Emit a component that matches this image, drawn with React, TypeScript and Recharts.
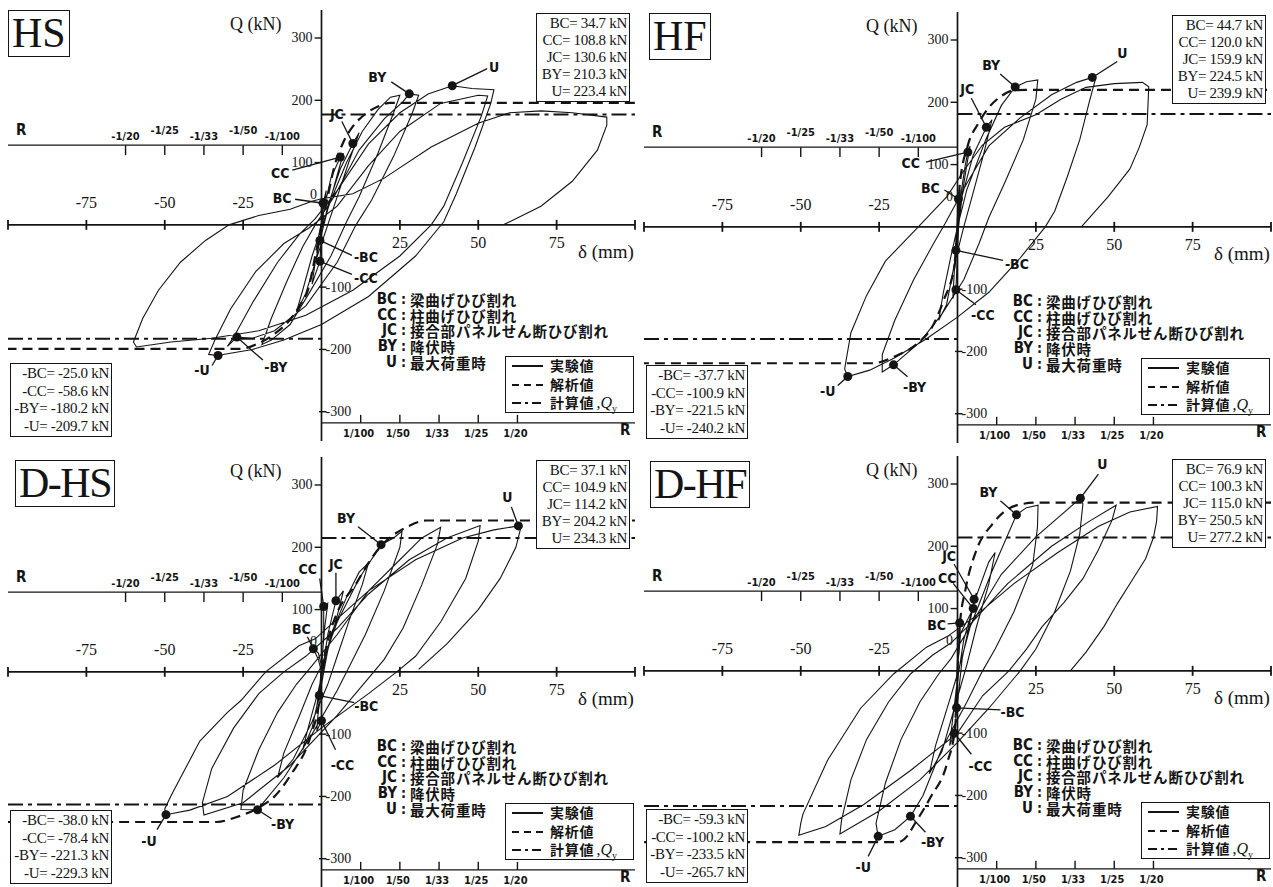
import React from 'react'
import { ComposedChart, Line, Scatter, XAxis, YAxis, ReferenceLine } from 'recharts'

type Pt = [number, number]

// shared axes
const deltaTicks = [-100, -75, -50, -25, 25, 50, 75, 100]
const deltaLabels = [-75, -50, -25, 25, 50, 75]
const qTicks = [300, 200, 100, -100, -200, -300]
const rDelta = [12.5, 25, 37.5, 50, 62.5]
const rLabels = ['1/100', '1/50', '1/33', '1/25', '1/20']
const markerNames = ['BC', 'CC', 'JC', 'BY', 'U', '-BC', '-CC', '-BY', '-U']
const defCodes = ['BC', 'CC', 'JC', 'BY', 'U']
const defTerms = ['梁曲げひび割れ', '柱曲げひび割れ', '接合部パネルせん断ひび割れ', '降伏時', '最大荷重時']
const legendTerms = ['実験値', '解析値', '計算値']

// HS
const hsCurve: Pt[] = [
  [0, 0], [0.5, 34.7], [1.5, 55], [1, 30], [0, 2], [-0.5, -25], [-1.5, -45], [-1, -20], [0, 0],
  [1, 30], [3, 75], [6, 108.8], [7, 115], [5, 80], [2, 25], [0, -15], [-0.5, -58.6], [-2, -80], [-3, -95], [-2, -60], [0, -15],
  [2, 30], [6, 90], [10, 130.6], [12, 148], [9, 105], [5, 45], [2, 0], [-2, -60], [-5, -110], [-8, -140], [-6, -105], [-3, -50], [0, -5],
  [3, 40], [8, 100], [13, 150], [18, 185], [22, 205], [25, 208], [23, 180], [18, 115], [12, 45], [8, 5], [3, -50], [-4, -110], [-10, -160], [-16, -185], [-19, -192], [-16, -150], [-11, -90], [-6, -35], [-2, 0],
  [4, 45], [12, 120], [20, 170], [26, 198], [28, 210.3], [31, 208], [29, 180], [23, 110], [16, 40], [11, 0], [5, -60], [-5, -130], [-15, -170], [-22, -182], [-27, -180.2], [-30, -195], [-28, -180], [-22, -125], [-14, -60], [-7, -15], [-2, 10],
  [5, 55], [15, 130], [25, 180], [34, 210], [41.7, 223.4], [48, 219], [55, 217], [54, 195], [49, 125], [43, 50], [39, 5], [30, -50], [15, -115], [0, -160], [-12, -185], [-22, -200], [-30, -207], [-33, -209.7], [-36, -208], [-34, -185], [-29, -135], [-21, -75], [-12, -30], [-4, -5],
  [5, 30], [15, 95], [25, 150], [38, 195], [50, 208], [53, 207], [51, 175], [45, 100], [39, 30], [35, 0], [25, -50], [10, -105], [-5, -145], [-20, -170], [-35, -182], [-48, -188], [-59, -196], [-60, -188], [-57, -150], [-52, -105], [-45, -60], [-37, -25], [-29.5, 0], [-20, 15], [-10, 25], [-3, 38], [0, 42],
  [10, 50], [20, 75], [35, 125], [50, 163], [60, 180], [70, 183], [80, 180], [91, 173], [91, 160], [88, 120], [80, 70], [70, 30], [58, 0],
]
const hsSkelPos: Pt[] = [[0, 0], [2, 45], [4, 92], [7, 133], [10, 158], [14, 178], [18, 190], [22, 196], [100, 196]]
const hsSkelNeg: Pt[] = [[0, 0], [-2, -50], [-4, -99], [-7, -130], [-10, -152], [-15, -175], [-20, -190], [-26, -199], [-100, -199]]
const hsQy = [177, -183]
const hsMarkD = [0.5, 6, 10, 28, 41.7, -0.5, -0.5, -27, -33]
const hsMarkQ = [34.7, 108.8, 130.6, 210.3, 223.4, -25.0, -58.6, -180.2, -209.7]

// HF
const hfCurve: Pt[] = [
  [0, 0], [0.3, 44.7], [0.8, 60], [0.4, 25], [0, 0], [-0.5, -37.7], [-1, -55], [-0.5, -20], [0, 5],
  [1, 50], [2.5, 100], [3.3, 120], [4, 130], [2.5, 85], [0.5, 20], [-0.5, -100.9], [-1.5, -115], [-1, -70], [0, -15],
  [1.5, 50], [5, 115], [9.2, 159.9], [11, 172], [8.5, 120], [5, 55], [2, 0], [-1, -60], [-3.5, -125], [-6, -150], [-4.5, -105], [-2, -45], [0, 0],
  [3, 60], [9, 140], [14, 195], [18.4, 224.5], [22, 233], [25.6, 236], [25, 205], [21, 140], [15, 70], [10, 15], [7, -25], [2, -85], [-5, -140], [-12, -185], [-20.4, -221.5], [-24, -233], [-24, -205], [-20, -150], [-14, -85], [-8, -30], [-4, 5],
  [3, 70], [10, 130], [20, 175], [30, 212], [38, 232], [43, 239.9], [44, 237], [42, 200], [39, 140], [35, 80], [31, 25], [28, 0], [20, -50], [10, -105], [0, -145], [-10, -180], [-20, -210], [-28, -230], [-35, -240.2], [-36, -228], [-34, -170], [-29, -110], [-23, -55], [-12.5, 0], [-3.3, 49],
  [2, 90], [7.9, 131], [15, 160], [25, 180], [33, 205], [41, 224], [50, 230], [59, 232], [61, 225], [60.5, 164], [58, 128], [55, 93], [48, 48], [39.5, 0],
]
const hfSkelPos: Pt[] = [[0, 0], [0.7, 66], [3.3, 131], [6.5, 165], [9.9, 191], [14, 210], [17.8, 219], [22, 220], [100, 220]]
const hfSkelNeg: Pt[] = [[0, 0], [-0.7, -55], [-4.6, -120], [-8, -160], [-12.5, -186], [-20, -208], [-27, -219], [-100, -219]]
const hfQy = [181, -180]
const hfMarkD = [0.3, 3.3, 9.2, 18.4, 43, -0.5, -0.5, -20.4, -35]
const hfMarkQ = [44.7, 120.0, 159.9, 224.5, 239.9, -37.7, -100.9, -221.5, -240.2]

// D-HS
const dhsCurve: Pt[] = [
  [0, 0], [-1, 20], [-2.6, 37.1], [-1, 30], [0, 10], [-0.7, -38], [-1.5, -55], [-0.5, -20], [0, 0],
  [0.7, 60], [0.7, 104.9], [2, 110], [1, 70], [0, 10], [0, -78.4], [-1.5, -95], [-1, -60], [0, -10],
  [2, 60], [4.6, 114.2], [7, 130], [5, 90], [2, 35], [0, -20], [-3, -90], [-6, -125], [-4, -85], [-1, -30],
  [3, 60], [8, 120], [12, 160], [15, 175], [13, 140], [9, 85], [5, 25], [2, -20], [-3, -80], [-9, -140], [-14, -170], [-12, -130], [-7, -70], [-3, -20], [0, 10],
  [5, 80], [12, 150], [19, 204.2], [23, 215], [25.7, 226], [25, 200], [20, 130], [14, 60], [9, 10], [5, -30], [-3, -100], [-12, -170], [-20.4, -221.3], [-25.7, -221], [-25, -190], [-20, -125], [-14, -65], [-8, -20], [-3, 10],
  [5, 60], [15, 130], [25, 180], [32, 215], [38, 232], [37, 205], [32, 140], [26, 70], [20, 20], [15, -10], [5, -70], [-10, -150], [-25, -210], [-37.5, -230], [-38, -210], [-35, -155], [-28, -90], [-20, -35], [-12, 0], [-5, 25],
  [5, 70], [15, 125], [28, 180], [40, 215], [50.6, 235], [50, 210], [46, 150], [38, 80], [30, 25], [24, 0], [15, -35], [0, -90], [-15, -150], [-30, -200], [-42, -222], [-49.6, -229.3], [-50, -220], [-48, -199], [-38.8, -111], [-30, -65], [-25.7, -46], [-17.8, 0], [-7.2, 42], [-2, 53],
  [5, 85], [15, 130], [30, 180], [45, 215], [55, 228], [62.8, 234.3], [63.5, 230], [62, 200], [57, 150], [50, 100], [40, 45], [31, 4],
]
const dhsSkelPos: Pt[] = [[0, 0], [2, 50], [5, 95], [11, 141], [15, 175], [19, 202], [23, 220], [27, 232], [33.5, 243], [100, 243]]
const dhsSkelNeg: Pt[] = [[0, 0], [-0.7, -46], [-3.3, -100], [-9.9, -166], [-15, -200], [-20.4, -219], [-27, -233], [-33.5, -241], [-100, -241]]
const dhsQy = [215, -213]
const dhsMarkD = [-2.6, 0.7, 4.6, 19, 62.8, -0.7, 0, -20.4, -49.6]
const dhsMarkQ = [37.1, 104.9, 114.2, 204.2, 234.3, -38.0, -78.4, -221.3, -229.3]

// D-HF
const dhfCurve: Pt[] = [
  [0, 0], [0.3, 40], [0.7, 76.9], [1, 85], [0.5, 40], [0, 0], [-0.3, -59.3], [-0.8, -75], [-0.3, -30], [0, 5],
  [1, 60], [5, 100.3], [5.3, 115], [6, 125], [4, 80], [1.5, 20], [-1, -100.2], [-2.5, -120], [-1.5, -75], [0, -15],
  [2, 50], [6, 120], [10, 175], [12, 190], [10, 140], [6, 70], [3, 10], [-1, -60], [-5, -130], [-9, -165], [-7, -120], [-3, -55], [0, -5],
  [4, 70], [11, 160], [18.8, 250.5], [22, 262], [25.7, 266], [25.5, 230], [24, 170], [18, 95], [12, 35], [8, 0], [3, -50], [-5, -125], [-11, -200], [-15, -233.5], [-20, -255], [-25.3, -265.7], [-26, -245], [-23, -180], [-18, -110], [-12, -50], [-6, -5], [-2, 20],
  [5, 80], [14, 155], [25, 215], [33, 250], [39.2, 277.2], [40, 268], [39, 220], [36, 160], [31, 95], [25, 35], [20, 0], [10, -60], [0, -115], [-12, -175], [-25, -225], [-37.5, -262], [-37, -240], [-34, -175], [-29, -110], [-22, -50], [-15, -5], [-8, 25], [-2, 45],
  [5, 80], [16, 140], [30, 200], [42, 240], [50.6, 266], [49.3, 242], [45, 195], [40, 148], [34, 110], [27, 71], [22, 35], [16.4, 0], [8, -40], [0, -100], [-15, -160], [-30, -215], [-42, -250], [-50.6, -264], [-50, -245], [-49.3, -230], [-41.4, -143], [-30.9, -60], [-20.4, -5], [-9.9, 38], [-3.3, 55],
  [5, 85], [18, 140], [32, 190], [45, 232], [55, 255], [63.8, 264], [63.5, 240], [62.5, 214], [60, 180], [56, 148], [51, 108], [46.7, 71], [41, 30], [36, 0],
]
const dhfSkelPos: Pt[] = [[0, 0], [0.7, 71], [2.6, 132], [5.9, 192], [11.2, 236], [15, 256], [19, 266], [25, 270], [100, 270]]
const dhfSkelNeg: Pt[] = [[0, 0], [-0.7, -88], [-3.3, -148], [-8.6, -203], [-13.8, -247], [-16, -265], [-19, -275], [-100, -275]]
const dhfQy = [214, -217]
const dhfMarkD = [0.7, 5, 5.3, 18.8, 39.2, -0.3, -1, -15, -25.3]
const dhfMarkQ = [76.9, 100.3, 115.0, 250.5, 277.2, -59.3, -100.2, -233.5, -265.7]

// leader line end / label offset (px) for each marker
const hsLeaders = [[-28, -4, -41, -5], [-48, 13, -60, 16], [-11, -22, -16, -30], [-18, -12, -32, -17], [35, -17, 42, -19], [32, 15, 46, 17], [32, 13, 46, 17], [26, 23, 39, 30], [-6, 10, -16, 15]]
const hfLeaders = [[-14, -9, -28, -11], [-42, 10, -57, 11], [-15, -29, -19, -38], [-15, -13, -24, -22], [25, -16, 30, -24], [47, 10, 61, 14], [20, 15, 27, 25], [14, 12, 21, 22], [-10, 9, -20, 15]]
const dhsLeaders = [[-6, -12, -12, -20], [-4, -28, -16, -38], [0, -28, 0, -37], [-23, -18, -35, -27], [-7, -19, -11, -29], [35, 7, 47, 10], [14, 29, 21, 44], [14, 9, 25, 14], [-9, 15, -17, 26]]
const dhfLeaders = [[-12, 1, -23, 2], [-20, -25, -26, -30], [-20, -35, -25, -43], [-16, -14, -28, -23], [18, -24, 22, -34], [44, 2, 56, 4], [17, 21, 26, 33], [15, 16, 22, 26], [-10, 20, -15, 31]]

const panels = [
  { title: 'HS', left: 0, top: 0, tl: [8, 10], curve: hsCurve, sp: hsSkelPos, sn: hsSkelNeg, qy: hsQy, md: hsMarkD, mq: hsMarkQ, ld: hsLeaders },
  { title: 'HF', left: 636, top: 2, tl: [13, 11], curve: hfCurve, sp: hfSkelPos, sn: hfSkelNeg, qy: hfQy, md: hfMarkD, mq: hfMarkQ, ld: hfLeaders },
  { title: 'D-HS', left: 0, top: 447, tl: [15, 13], curve: dhsCurve, sp: dhsSkelPos, sn: dhsSkelNeg, qy: dhsQy, md: dhsMarkD, mq: dhsMarkQ, ld: dhsLeaders },
  { title: 'D-HF', left: 636, top: 446, tl: [14, 15], curve: dhfCurve, sp: dhfSkelPos, sn: dhfSkelNeg, qy: dhfQy, md: dhfMarkD, mq: dhfMarkQ, ld: dhfLeaders },
]

const PW = 636
const PH = 441
const R_TOP = 128
const R_BOT = -318
const ink = '#141414'
const serif = "'Liberation Serif', 'Times New Roman', serif"
const sansB = "'Liberation Sans Narrow', 'DejaVu Sans Condensed', 'Liberation Sans', Arial, sans-serif"
const jp = "'Noto Sans CJK JP', sans-serif"

const toXY = (pts: Pt[]) => pts.map(([x, y]) => ({ x, y }))

function Panel({ p }: { p: any }) {
  const markers = p.md.map((d: number, i: number) => ({ x: d, y: p.mq[i], i }))
  const dLab = deltaLabels.map((v) => ({ x: v, y: 0, t: String(v) }))
  const qLab = qTicks.map((q) => ({ x: 0, y: q, t: String(q) }))
  const rTop = rDelta.map((r, i) => ({ x: -r, y: R_TOP, t: '-' + rLabels[i], i }))
  const rBot = rDelta.map((r, i) => ({ x: r, y: R_BOT, t: rLabels[i], i }))
  const posRows = markerNames.slice(0, 5).map((n, i) => `${n}= ${p.mq[i].toFixed(1)} kN`)
  const negRows = markerNames.slice(5).map((n, i) => `${n}= ${p.mq[i + 5].toFixed(1)} kN`)
  const seg = { stroke: ink, strokeWidth: 1.4, ifOverflow: 'visible' as const }

  return (
    <div style={{ position: 'absolute', left: p.left, top: p.top, width: PW, height: PH }}>
      <ComposedChart width={PW} height={PH} margin={{ top: 0, right: 1, bottom: 0, left: 8 }}>
        <XAxis type="number" dataKey="x" domain={[-100, 100]} hide allowDataOverflow />
        <YAxis type="number" dataKey="y" domain={[-347, 361]} hide allowDataOverflow />
        <ReferenceLine segment={[{ x: -100, y: 0 }, { x: 100, y: 0 }]} {...seg} strokeWidth={1.7} />
        <ReferenceLine segment={[{ x: 0, y: -347 }, { x: 0, y: 345 }]} {...seg} strokeWidth={1.7} />
        {deltaTicks.map((t) => (
          <ReferenceLine key={'dt' + t} segment={[{ x: t, y: -8 }, { x: t, y: 8 }]} {...seg} strokeWidth={1.8} />
        ))}
        {qTicks.map((q) => (
          <ReferenceLine key={'qt' + q} segment={[{ x: q > 0 ? -2.2 : -0.8, y: q }, { x: q > 0 ? 0 : 1.6, y: q }]} {...seg} />
        ))}
        <ReferenceLine segment={[{ x: -100, y: R_TOP }, { x: 0, y: R_TOP }]} {...seg} strokeWidth={1.2} />
        <ReferenceLine segment={[{ x: 0, y: R_BOT }, { x: 100, y: R_BOT }]} {...seg} strokeWidth={1.2} />
        {rDelta.map((r) => (
          <ReferenceLine key={'rt' + r} segment={[{ x: -r, y: R_TOP }, { x: -r, y: R_TOP - 16 }]} {...seg} />
        ))}
        {rDelta.map((r) => (
          <ReferenceLine key={'rb' + r} segment={[{ x: r, y: R_BOT }, { x: r, y: R_BOT + 13 }]} {...seg} />
        ))}
        <ReferenceLine segment={[{ x: 0, y: p.qy[0] }, { x: 100, y: p.qy[0] }]} {...seg} strokeWidth={2} strokeDasharray="15 5 4 5" />
        <ReferenceLine segment={[{ x: -100, y: p.qy[1] }, { x: 0, y: p.qy[1] }]} {...seg} strokeWidth={2} strokeDasharray="15 5 4 5" />
        <Line data={toXY(p.sp)} dataKey="y" type="monotone" stroke={ink} strokeWidth={2.2} strokeDasharray="10 6" dot={false} activeDot={false} isAnimationActive={false} />
        <Line data={toXY(p.sn)} dataKey="y" type="monotone" stroke={ink} strokeWidth={2.2} strokeDasharray="10 6" dot={false} activeDot={false} isAnimationActive={false} />
        <Line data={toXY(p.curve)} dataKey="y" type="linear" stroke={ink} strokeWidth={1.1} dot={false} activeDot={false} isAnimationActive={false} />
        <Scatter
          data={markers}
          isAnimationActive={false}
          shape={(s: any) => {
            const [lx, ly, tx, ty] = p.ld[s.payload.i]
            return (
              <g>
                <line x1={s.cx} y1={s.cy} x2={s.cx + lx} y2={s.cy + ly} stroke={ink} strokeWidth={1.3} />
                <circle cx={s.cx} cy={s.cy} r={4.5} fill={ink} />
                <text x={s.cx + tx} y={s.cy + ty} textAnchor="middle" dominantBaseline="central" fontFamily={sansB} fontWeight="bold" fontSize={14} fill={ink}>
                  {markerNames[s.payload.i]}
                </text>
              </g>
            )
          }}
        />
        <Scatter
          data={dLab}
          isAnimationActive={false}
          shape={(s: any) => (
            <text x={s.cx} y={s.cy + (s.payload.x < 0 ? -22 : 18)} textAnchor="middle" dominantBaseline="central" fontFamily={serif} fontSize={16} fill={ink}>
              {s.payload.t}
            </text>
          )}
        />
        <Scatter
          data={qLab}
          isAnimationActive={false}
          shape={(s: any) => (
            <text x={s.cx + (s.payload.y > 0 ? -9 : 4)} y={s.cy} textAnchor={s.payload.y > 0 ? 'end' : 'start'} dominantBaseline="central" fontFamily={serif} fontSize={14} fill={ink}>
              {s.payload.t}
            </text>
          )}
        />
        <Scatter
          data={[{ x: 0, y: 0, t: '0' }]}
          isAnimationActive={false}
          shape={(s: any) => (
            <text x={s.cx - 8} y={s.cy - 30} textAnchor="middle" dominantBaseline="central" fontFamily={serif} fontSize={14} fill={ink}>
              {s.payload.t}
            </text>
          )}
        />
        <Scatter
          data={rTop}
          isAnimationActive={false}
          shape={(s: any) => (
            <text x={s.cx} y={s.cy - (s.payload.i % 2 ? 15 : 9)} textAnchor="middle" dominantBaseline="central" fontFamily={sansB} fontWeight="bold" fontSize={11} fill={ink}>
              {s.payload.t}
            </text>
          )}
        />
        <Scatter
          data={rBot}
          isAnimationActive={false}
          shape={(s: any) => (
            <text x={s.cx - 2} y={s.cy + 11} textAnchor="middle" dominantBaseline="central" fontFamily={sansB} fontWeight="bold" fontSize={11} fill={ink}>
              {s.payload.t}
            </text>
          )}
        />
      </ComposedChart>

      <div style={{ position: 'absolute', left: p.tl[0], top: p.tl[1], border: `1.5px solid ${ink}`, padding: '0 3px', fontFamily: serif, fontSize: 42, lineHeight: '45px', letterSpacing: p.title.length > 2 ? -1.5 : 0, color: ink, background: '#fff' }}>
        {p.title}
      </div>
      <div style={{ position: 'absolute', left: 230, top: 13, fontFamily: serif, fontSize: 18, lineHeight: '22px', color: ink }}>Q (kN)</div>
      <div style={{ position: 'absolute', left: 578, top: 241, fontFamily: serif, fontSize: 19, lineHeight: '22px', color: ink }}>δ (mm)</div>
      <div style={{ position: 'absolute', left: 16, top: 122, fontFamily: sansB, fontWeight: 'bold', fontSize: 15, lineHeight: '17px', color: ink }}>R</div>
      <div style={{ position: 'absolute', left: 620, top: 422, fontFamily: sansB, fontWeight: 'bold', fontSize: 15, lineHeight: '17px', color: ink }}>R</div>

      <div style={{ position: 'absolute', left: 536, top: 13, width: 88, padding: '1px 2px', border: `1px solid ${ink}`, background: '#fff', textAlign: 'right', fontFamily: serif, fontSize: 15, lineHeight: '17px', color: ink, letterSpacing: -0.3 }}>
        {posRows.map((r) => <div key={r} style={{ whiteSpace: 'pre' }}>{r}</div>)}
      </div>
      <div style={{ position: 'absolute', left: 10, top: 363, width: 96, padding: '1px 2px', border: `1px solid ${ink}`, background: '#fff', textAlign: 'right', fontFamily: serif, fontSize: 15, lineHeight: '17.5px', color: ink, letterSpacing: -0.3 }}>
        {negRows.map((r) => <div key={r} style={{ whiteSpace: 'pre' }}>{r}</div>)}
      </div>

      <div style={{ position: 'absolute', left: 376, top: 292, color: ink }}>
        {defCodes.map((c, i) => (
          <div key={c} style={{ display: 'flex', alignItems: 'center', height: 15.7, lineHeight: '15.7px' }}>
            <span style={{ width: 21, textAlign: 'right', fontFamily: sansB, fontWeight: 'bold', fontSize: 15 }}>{c}</span>
            <span style={{ width: 13, textAlign: 'center', fontFamily: sansB, fontWeight: 'bold', fontSize: 14 }}>:</span>
            <span style={{ fontFamily: jp, fontWeight: 700, fontSize: 14.5, letterSpacing: 0.8 }}>{defTerms[i]}</span>
          </div>
        ))}
      </div>

      <div style={{ position: 'absolute', left: 505, top: 356, width: 127, height: 55, border: `1px solid ${ink}`, background: '#fff', color: ink }}>
        {legendTerms.map((t, i) => (
          <div key={t} style={{ position: 'absolute', left: 0, top: 0 + i * 18.5, height: 17, lineHeight: '17px', display: 'flex', alignItems: 'center' }}>
            <svg width={44} height={17}>
              <line x1={6} y1={9} x2={37} y2={9} stroke={ink} strokeWidth={2} strokeDasharray={i === 0 ? undefined : i === 1 ? '7 5' : '9 4 3 4'} />
            </svg>
            <span style={{ fontFamily: jp, fontWeight: 700, fontSize: 14, letterSpacing: 0.8 }}>{t}</span>
            {i === 2 && (
              <span style={{ fontFamily: serif, fontSize: 16, marginLeft: 2 }}>
                ,<i>Q</i><sub style={{ fontSize: 10, lineHeight: 0 }}>y</sub>
              </span>
            )}
          </div>
        ))}
      </div>
    </div>
  )
}

export default function App() {
  return (
    <div style={{ position: 'relative', width: 1273, height: 887, overflow: 'hidden', background: '#fff' }}>
      <style>{'body{margin:0;background:#fff}'}</style>
      {panels.map((p) => (
        <Panel key={p.title} p={p} />
      ))}
    </div>
  )
}
